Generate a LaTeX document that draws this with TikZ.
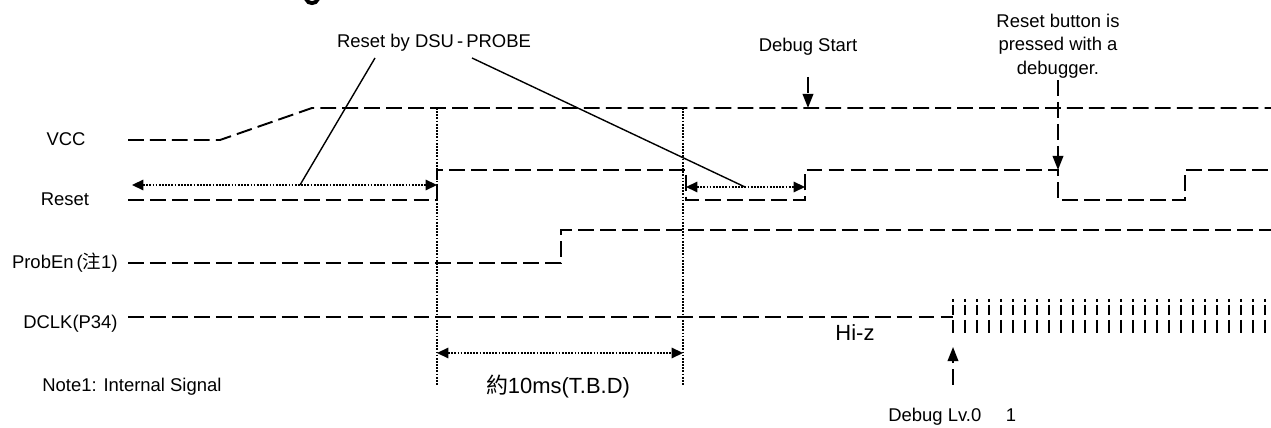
\documentclass[tikz,border=0pt]{standalone}
\usepackage{fontspec}
\setmainfont{Liberation Sans}
\newfontfamily\cjk{Noto Sans CJK TC}
\usetikzlibrary{arrows.meta}
\tikzset{
  senal/.style={
    line width=1.1pt,
    dash pattern=on 9pt off 3.5pt
  },
  guia/.style={
    line width=0.9pt,
    dash pattern=on 1pt off 0.8pt
  },
  cota/.style={
    {Triangle[length=6.5pt,width=6pt]}-{Triangle[length=6.5pt,width=6pt]},
    line width=0.9pt,
    dash pattern=on 1pt off 0.8pt
  },
  marca/.style={
    -{Triangle[length=8pt,width=6pt]},
    line width=1.1pt,
    dash pattern=on 9pt off 3.5pt
  },
  guion/.style={
    line width=0.8pt
  },
  pulso/.style={
    line width=1.1pt,
    dash pattern=on 1.7pt off 1.7pt on 5.7pt off 2.8pt on 7.4pt off 20pt
  },
  etiqueta/.style={
    inner sep=0pt,
    font=\fontsize{10.5}{13.5}\selectfont
  },
  grande/.style={
    inner sep=0pt,
    font=\fontsize{12.5}{14}\selectfont
  }
}

\begin{document}
\begin{tikzpicture}[x=0.02cm,y=-0.02cm]
\useasboundingbox (0,0) rectangle (1271,428);
\clip (0,0) rectangle (1271,428);
% piece of the cut-off heading
\draw[line width=2.2pt] (306,-1) .. controls (308,4.5) and (316,4.5) .. (318,-1);
% signal names
\node[etiqueta] (vcc) at (66,139) {VCC};
\node[etiqueta] (reset) at (65,199) {Reset};
\node[etiqueta,anchor=east] (proben) at (118,263) {ProbEn\,({\cjk 注}1)};
\node[etiqueta,anchor=east] (dclk) at (118,324) {DCLK(P34)};
\node[etiqueta,anchor=west] (nota) at (42,387) {Note1: Internal Signal};
% waveforms
\draw[senal] (128,140) -- (220,140) -- (312,108) -- (1271,108);
\draw[senal] (128,200) -- (437,200) -- (437,170) -- (686,170) -- (686,200)
  -- (805,200) -- (805,170) -- (1058,170) -- (1058,200) -- (1185,200)
  -- (1185,170) -- (1271,170);
\draw[senal] (128,263) -- (561,263) -- (561,230) -- (1271,230);
\draw[senal] (128,317) -- (953,317);
\foreach \i in {0,...,26}
  \draw[pulso] (953+12*\i,299) -- (953+12*\i,334);
\node[grande] (hiz) at (855,333) {Hi-z};
% timing guides
\coordinate (g1) at (437,108);
\coordinate (g2) at (683,108);
\draw[guia] (g1) -- ++(0,277) coordinate (g1b);
\draw[guia] (g2) -- ++(0,277) coordinate (g2b);
\coordinate (a1) at (132,185);
\coordinate (a2) at (437,185);
\coordinate (b1) at (686,187);
\coordinate (b2) at (805,187);
\draw[cota] (a1) -- (a2);
\draw[cota] (b1) -- (b2);
\draw[cota] (437,353) coordinate (c1) -- (683,353) coordinate (c2);
\node[grande] (tiempo) at (558,387) {{\cjk 約}10ms(T.B.D)};
% callouts
\node[etiqueta] (dsu) at (434,43) {Reset by DSU\thinspace-\thinspace PROBE};
\coordinate (d1) at (375,58);
\coordinate (d2) at (472,58);
\coordinate (p1) at (300,185);
\coordinate (p2) at (745,187);
\draw[guion] (d1) -- (p1);
\draw[guion] (d2) -- (p2);
\node[etiqueta] (inicio) at (808,47) {Debug Start};
\coordinate (s1) at (808,77);
\coordinate (s2) at (808,108);
\draw[marca] (s1) -- (s2);
\node[etiqueta,align=center] (boton) at (1058,46) {Reset button is\\pressed with a\\debugger.};
\coordinate (r1) at (1058,80);
\coordinate (r2) at (1058,170);
\draw[marca] (r1) -- (r2);
\coordinate (l1) at (953,385);
\coordinate (l2) at (953,347);
\draw[marca] (l1) -- (l2);
\node[etiqueta,anchor=west] (nivel) at (888,417) {Debug Lv.0\hspace{14pt}1};
\end{tikzpicture}
\end{document}
